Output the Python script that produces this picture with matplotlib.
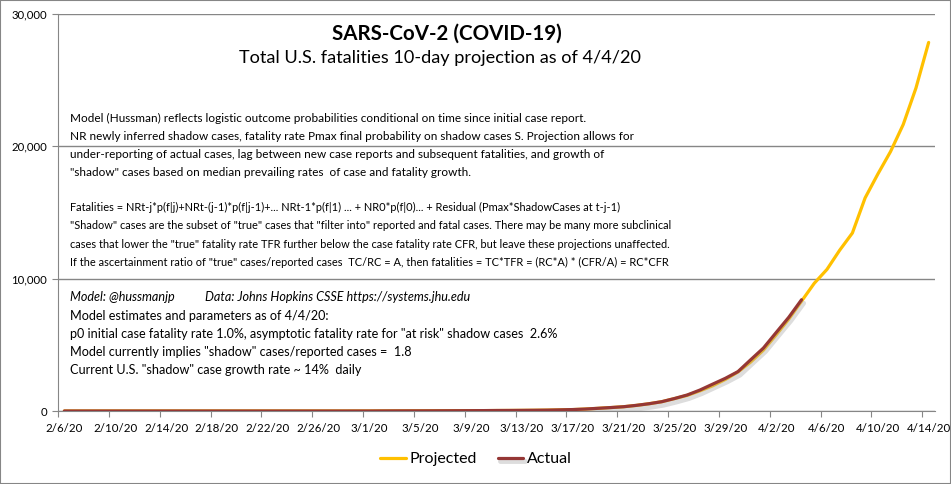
import matplotlib
matplotlib.use('Agg')
import matplotlib.pyplot as plt
import matplotlib.patheffects as pe
from matplotlib.patches import Rectangle
import numpy as np
import pandas as pd

plt.rcParams['font.family'] = ['Lato', 'DejaVu Sans']

# categories: one per day, 2/6/20 .. 4/14/20
dates = pd.date_range('2020-02-06', '2020-04-14', freq='D')
tick_every = 4

# actual U.S. fatalities, 2/6 .. 4/4
actual = [0] * 23 + [
    1, 1, 6, 9, 11, 12, 15, 19, 22, 26, 30, 38, 41, 48, 56, 66, 86, 109, 148,
    205, 261, 324, 427, 550, 704, 943, 1209, 1581, 2026, 2467, 2978, 3873,
    4757, 5926, 7087, 8407]

# model projection, 2/6 .. 4/14
projected = [0] * 23 + [
    1, 1, 5, 8, 10, 12, 15, 18, 21, 25, 30, 36, 41, 47, 55, 66, 84, 107, 145,
    200, 258, 320, 420, 545, 700, 935, 1180, 1520, 1900, 2380, 2950, 3700,
    4600, 5750, 6950, 8300,
    9650, 10700, 12150, 13450, 16100, 17900, 19600, 21650, 24400, 27850]

title = 'SARS-CoV-2 (COVID-19)'
subtitle = 'Total U.S. fatalities 10-day projection as of 4/4/20'

block1 = [
    'Model (Hussman) reflects logistic outcome probabilities conditional on time since initial case report.',
    'NR newly inferred shadow cases, fatality rate Pmax final probability on shadow cases S. Projection allows for',
    'under-reporting of actual cases, lag between new case reports and subsequent fatalities, and growth of',
    '"shadow" cases based on median prevailing rates  of case and fatality growth.',
]
block2 = [
    'Fatalities = NRt-j*p(f|j)+NRt-(j-1)*p(f|j-1)+... NRt-1*p(f|1) ... + NR0*p(f|0)... + Residual (Pmax*ShadowCases at t-j-1)',
    '"Shadow" cases are the subset of "true" cases that "filter into" reported and fatal cases. There may be many more subclinical',
    'cases that lower the "true" fatality rate TFR further below the case fatality rate CFR, but leave these projections unaffected.',
    'If the ascertainment ratio of "true" cases/reported cases  TC/RC = A, then fatalities = TC*TFR = (RC*A) * (CFR/A) = RC*CFR',
]
credit_model = 'Model: @hussmanjp'
credit_data = 'Data: Johns Hopkins CSSE https://systems.jhu.edu'
block3 = [
    'Model estimates and parameters as of 4/4/20:',
    'p0 initial case fatality rate 1.0%, asymptotic fatality rate for "at risk" shadow cases  2.6%',
    'Model currently implies "shadow" cases/reported cases =  1.8',
    'Current U.S. "shadow" case growth rate ~ 14%  daily',
]

W, H = 951, 484
fig = plt.figure(figsize=(W / 100, H / 100), dpi=100)
ax = fig.add_axes([58 / W, 1 - 411 / H, (935 - 58) / W, (411 - 14) / H])

x_proj = np.arange(len(projected))
x_act = np.arange(len(actual))
ax.plot(x_proj, projected, color='#FFC000', lw=2.3, solid_capstyle='round', zorder=3)
ax.plot(x_act, actual, color='#953735', lw=2.3, solid_capstyle='round', zorder=4,
        path_effects=[pe.SimpleLineShadow(offset=(1.5, -2.5), shadow_color='#aaaaaa', alpha=0.4, linewidth=3.5),
                      pe.Normal()])

ax.set_xlim(-0.5, len(dates) - 0.5)
ax.set_ylim(0, 30000)
ax.set_yticks([0, 10000, 20000, 30000])
ax.set_yticklabels([f'{v:,}' for v in [0, 10000, 20000, 30000]], fontsize=8.2)
ax.grid(axis='y', color='#868686', lw=1)
ax.set_axisbelow(True)

tick_idx = np.arange(0, len(dates), tick_every)
ax.set_xticks(tick_idx - 0.5)
ax.set_xticklabels([])
ax.set_xticks(tick_idx, minor=True)
ax.set_xticklabels([f'{d.month}/{d.day}/20' for d in dates[tick_idx]], minor=True, fontsize=8.3)
ax.tick_params(axis='x', which='major', length=4, color='#868686')
ax.tick_params(axis='x', which='minor', length=0, pad=9)
ax.tick_params(axis='y', length=4, color='#868686', pad=4)

for s in ['top', 'right']:
    ax.spines[s].set_visible(False)
for s in ['left', 'bottom']:
    ax.spines[s].set_color('#868686')

def px(x, y):
    return x / W, 1 - y / H

fig.text(*px(447, 34), title, fontsize=14.8, fontweight='bold', ha='center', va='center')
fig.text(*px(440, 58), subtitle, fontsize=13.1, ha='center', va='center')

for i, line in enumerate(block1):
    fig.text(*px(70, 118 + i * 18.3), line, fontsize=8.5, va='center')
for i, line in enumerate(block2):
    fig.text(*px(70, 207 + i * 18.6), line, fontsize=7.9, va='center')
fig.text(*px(70, 297), credit_model, fontsize=9.1, style='italic', va='center')
fig.text(*px(205, 297), credit_data, fontsize=9.1, style='italic', va='center')
for i, line in enumerate(block3):
    fig.text(*px(70, 316 + i * 18), line, fontsize=9.1, va='center')

# legend below the plot
fig.legend(['Projected', 'Actual'], loc='center', bbox_to_anchor=px(476, 459), ncol=2,
           frameon=False, fontsize=11.5, handlelength=1.6, handletextpad=0.25, columnspacing=1.3)

fig.patches.append(Rectangle((0, 0), 1, 1, transform=fig.transFigure, fill=False,
                             edgecolor='#868686', lw=1.5))

fig.savefig('out.png', dpi=100)
